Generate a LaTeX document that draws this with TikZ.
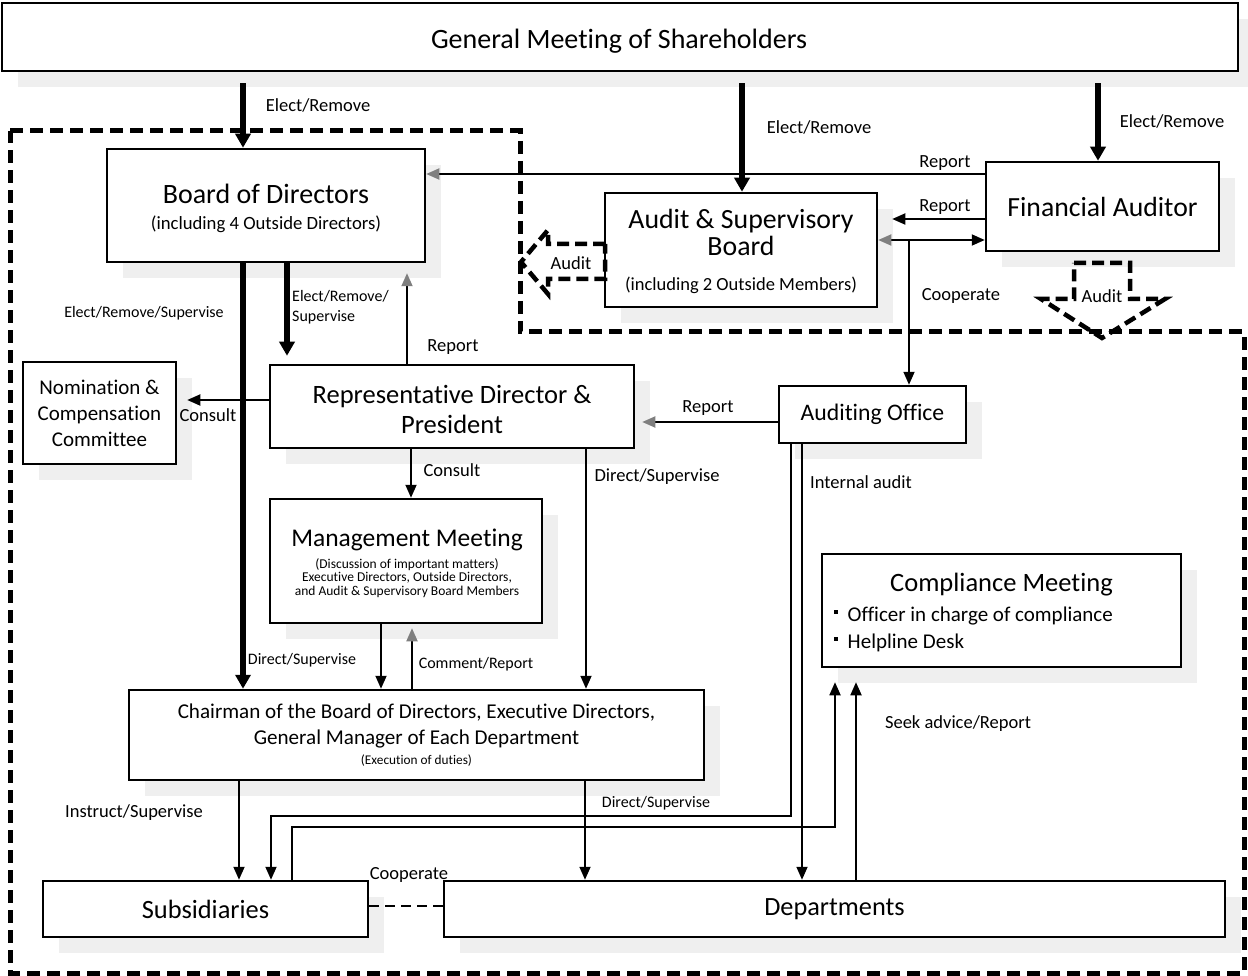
\documentclass[tikz,border=0pt]{standalone}
\usepackage{fontspec}
\setmainfont{Carlito}[Ligatures=NoCommon]
\usetikzlibrary{arrows.meta,shadows}
\definecolor{shd}{HTML}{EFEFEF}
\definecolor{hg}{HTML}{7F7F7F}
\begin{document}
\begin{tikzpicture}[x=1pt,y=-1pt,
  box/.style={draw, line width=2.5pt, fill=white, inner sep=0pt, align=center,
    general shadow={fill=shd, shadow xshift=16pt, shadow yshift=-16pt}},
  txt/.style={inner sep=0pt, align=center},
  lab/.style={inner sep=0pt, font=\fontsize{18.5}{22}\selectfont},
  labs/.style={inner sep=0pt, align=left, font=\fontsize{16}{20}\selectfont},
  con/.style={line width=1.8pt, -{Triangle[length=13pt,width=11pt]}},
  cong/.style={line width=1.8pt, -{Triangle[length=13pt,width=11pt,color=hg]}},
  thk/.style={line width=6.5pt, -{Triangle[length=14pt,width=15pt]}},
  dsh/.style={line width=5pt, dash pattern=on 13pt off 7pt},
  adsh/.style={line width=4.5pt, dash pattern=on 12pt off 6pt},
]
\useasboundingbox (0,0) rectangle (1248,976);

% outer dashed region
\draw[dsh] (10,131) -- (520,131) -- (520,332) -- (1244,332) -- (1244,973) -- (10,973) -- cycle;

% boxes
\node[box, minimum width=1236pt, minimum height=68pt] (gm) at (620,37) {};
\node[txt, font=\fontsize{28}{32}\selectfont] (gmT) at (619,41) {General Meeting of Shareholders};

\node[box, minimum width=318pt, minimum height=113pt] (board) at (266,205.5) {};
\node[txt, font=\fontsize{28}{32}\selectfont] (boardT) at (266,194) {Board of Directors};
\node[txt, font=\fontsize{18.7}{22}\selectfont] (boardS) at (266,224) {(including 4 Outside Directors)};

\node[box, minimum width=272pt, minimum height=114pt] (asb) at (741,250) {};
\node[txt, font=\fontsize{27.8}{27}\selectfont] (asbT) at (741,232) {Audit \& Supervisory\\Board};
\node[txt, font=\fontsize{18.5}{22}\selectfont] (asbS) at (741,285) {(including 2 Outside Members)};

\node[box, minimum width=233pt, minimum height=89pt, font=\fontsize{27.7}{32}\selectfont] (fa) at (1102.5,206.5) {Financial Auditor};

\node[box, minimum width=153pt, minimum height=102pt, font=\fontsize{21}{26}\selectfont] (ncc) at (99.5,413) {Nomination \&\\Compensation\\Committee};

\node[box, minimum width=364pt, minimum height=83pt] (rep) at (452,406.5) {};
\node[txt, font=\fontsize{26.5}{30}\selectfont] (repT) at (452,409) {Representative Director \&\\President};

\node[box, minimum width=272pt, minimum height=124pt] (mm) at (406,561) {};
\node[txt, font=\fontsize{25.5}{30}\selectfont] (mmT) at (407,540) {Management Meeting};
\node[txt, font=\fontsize{13.5}{13.5}\selectfont] (mmS) at (407,578) {(Discussion of important matters)\\Executive Directors, Outside Directors,\\and Audit \& Supervisory Board Members};

\node[box, minimum width=187pt, minimum height=57pt, font=\fontsize{23.7}{28}\selectfont] (ao) at (872.5,414.5) {Auditing Office};

\node[box, minimum width=575pt, minimum height=90pt] (chair) at (416.5,735) {};
\node[txt, font=\fontsize{21.1}{26}\selectfont] (chairT) at (416.5,726) {Chairman of the Board of Directors, Executive Directors,\\General Manager of Each Department};
\node[txt, font=\fontsize{13.3}{16}\selectfont] (chairS) at (416.5,761) {(Execution of duties)};

\node[box, minimum width=359pt, minimum height=113pt] (cm) at (1001.5,610.5) {};
\node[txt, font=\fontsize{26.5}{30}\selectfont] (cmT) at (1001.5,585) {Compliance Meeting};
\node[txt, align=left, anchor=west, font=\fontsize{21}{27}\selectfont] (cmB) at (834,629.5) {\raisebox{8pt}{\rule{3.5pt}{3.5pt}}\hspace{10pt}Officer in charge of compliance\\\raisebox{8pt}{\rule{3.5pt}{3.5pt}}\hspace{10pt}Helpline Desk};

\node[box, minimum width=325pt, minimum height=56pt, font=\fontsize{26.4}{30}\selectfont] (sub) at (205.5,909) {Subsidiaries};
\node[box, minimum width=781pt, minimum height=56pt, font=\fontsize{26.3}{30}\selectfont] (dep) at (834.5,909) {Departments};

% audit block arrows
\draw[adsh] (605,244) -- (548,244) -- (548,230) -- (521,262) -- (548,294) -- (548,279) -- (605,279) -- cycle;
\draw[adsh] (1074,263) -- (1130,263) -- (1130,299) -- (1165,299) -- (1102,338) -- (1041,299) -- (1074,299) -- cycle;
\node[lab] (auditL) at (571,263) {Audit};
\node[lab] (auditD) at (1102,296) {Audit};

% column / row helpers
\coordinate (xa) at (243,0);
\coordinate (xb) at (742,0);
\coordinate (xc) at (1098,0);
\coordinate (xd) at (287,0);
\coordinate (xe) at (407,0);
\coordinate (xf) at (411,0);
\coordinate (xg) at (586,0);
\coordinate (xh) at (381,0);
\coordinate (xi) at (412,0);
\coordinate (xj) at (791,0);
\coordinate (xk) at (271,0);
\coordinate (xl) at (802,0);
\coordinate (xm) at (292,0);
\coordinate (xn) at (835,0);
\coordinate (xo) at (856,0);
\coordinate (xp) at (239,0);
\coordinate (xq) at (585,0);
\coordinate (ya) at (0,400);
\coordinate (yb) at (0,174);
\coordinate (yc) at (0,219);
\coordinate (yd) at (0,240);
\coordinate (ye) at (0,422);
\coordinate (yf) at (0,816);
\coordinate (yg) at (0,827);
\coordinate (yh) at (0,906);
\coordinate (coop) at (909,240);

% elect / remove
\draw[thk, shorten <=11pt] (gm.south -| xa) -- (board.north -| xa);
\draw[thk, shorten <=11pt] (gm.south -| xb) -- (asb.north -| xb);
\draw[thk, shorten <=11pt] (gm.south -| xc) -- (fa.north -| xc);

% board relations
\draw[thk] (board.south -| xa) -- (chair.north -| xa);
\draw[thk, shorten >=8pt] (board.south -| xd) -- (rep.north -| xd);
\draw[cong, shorten >=10pt] (rep.north -| xe) -- (board.south -| xe);
\draw[con] (rep.south -| xf) -- (mm.north -| xf);
\draw[con] (rep.south -| xg) -- (chair.north -| xg);
\draw[con] (mm.south -| xh) -- (chair.north -| xh);
\draw[cong, shorten >=4pt] (chair.north -| xi) -- (mm.south -| xi);
\draw[con, shorten >=10pt] (rep.west |- ya) -- (ncc.east |- ya);

% auditors
\draw[cong] (fa.west |- yb) -- (board.east |- yb);
\draw[con, shorten >=14pt] (fa.west |- yc) -- (asb.east |- yc);
\draw[line width=1.8pt, {Triangle[length=13pt,width=11pt,color=hg]}-{Triangle[length=13pt,width=11pt]}] (asb.east |- yd) -- (fa.west |- yd);
\draw[con] (coop) -- (ao.north -| coop);
\draw[cong, shorten >=7pt] (ao.west |- ye) -- (rep.east |- ye);

% internal audit
\draw[con] (ao.south -| xj) |- (xk |- yf) -- (sub.north -| xk);
\draw[con] (ao.south -| xl) -- (dep.north -| xl);

% compliance
\draw[con, shorten >=14pt] (sub.north -| xm) |- (xn |- yg) -- (cm.south -| xn);
\draw[con, shorten >=14pt] (dep.north -| xo) -- (cm.south -| xo);

% execution
\draw[con] (chair.south -| xp) -- (sub.north -| xp);
\draw[con] (chair.south -| xq) -- (dep.north -| xq);
\draw[line width=1.8pt, dash pattern=on 10pt off 6pt] (sub.east |- yh) -- (dep.west |- yh);

% labels
\node[lab] (l1) at (318,105) {Elect/Remove};
\node[lab] (l2) at (819,127) {Elect/Remove};
\node[lab] (l3) at (1172,121) {Elect/Remove};
\node[lab] (l4) at (945,163) {Report};
\node[lab] (l5) at (945,207) {Report};
\node[lab] (l6) at (961,296) {Cooperate};
\node[labs] (l7) at (144,313) {Elect/Remove/Supervise};
\node[labs, anchor=west] (l8) at (292,307) {Elect/Remove/\\Supervise};
\node[lab] (l9) at (453,347) {Report};
\node[lab] (l10) at (208,415) {Consult};
\node[lab] (l11) at (452,470) {Consult};
\node[lab] (l12) at (708,408) {Report};
\node[lab] (l13) at (657,477) {Direct/Supervise};
\node[lab] (l14) at (861,482) {Internal audit};
\node[labs] (l15) at (302,660) {Direct/Supervise};
\node[labs] (l16) at (476,664) {Comment/Report};
\node[lab] (l17) at (958,724) {Seek advice/Report};
\node[lab] (l18) at (134,813) {Instruct/Supervise};
\node[labs] (l19) at (656,803) {Direct/Supervise};
\node[lab] (l20) at (409,875) {Cooperate};
\end{tikzpicture}
\end{document}
